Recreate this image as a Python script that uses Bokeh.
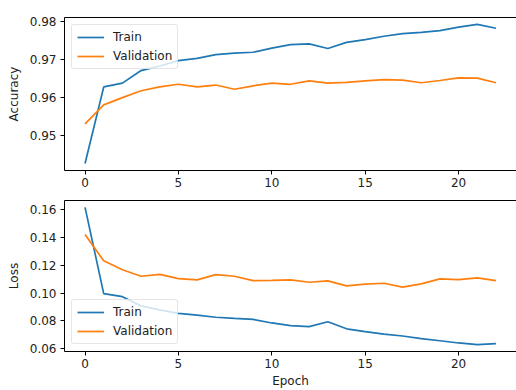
from bokeh.plotting import figure
from bokeh.layouts import column
from bokeh.models import Range1d, LinearAxis, FixedTicker, Legend, LegendItem
from bokeh.embed import file_html
from bokeh.resources import INLINE

epochs = list(range(23))
train_acc = [0.9427, 0.9628, 0.9638, 0.9671, 0.9683, 0.9697, 0.9703, 0.9713, 0.9717, 0.9719,
             0.9730, 0.9739, 0.9741, 0.9729, 0.9745, 0.9752, 0.9761, 0.9768, 0.9771, 0.9776,
             0.9785, 0.9792, 0.9782]
val_acc = [0.9531, 0.9581, 0.9600, 0.9618, 0.9628, 0.9635, 0.9628, 0.9633, 0.9622, 0.9631,
           0.9638, 0.9635, 0.9644, 0.9638, 0.9640, 0.9644, 0.9647, 0.9646, 0.9639, 0.9645,
           0.9652, 0.9651, 0.9639]
train_loss = [0.1617, 0.0996, 0.0974, 0.0908, 0.0879, 0.0854, 0.0842, 0.0826, 0.0818, 0.0811,
              0.0785, 0.0766, 0.0759, 0.0794, 0.0743, 0.0723, 0.0705, 0.0691, 0.0672, 0.0657,
              0.0641, 0.0629, 0.0636]
val_loss = [0.1421, 0.1232, 0.1168, 0.1121, 0.1135, 0.1104, 0.1095, 0.1133, 0.1121, 0.1090,
            0.1092, 0.1095, 0.1078, 0.1088, 0.1052, 0.1064, 0.1071, 0.1043, 0.1066, 0.1102,
            0.1097, 0.1109, 0.1090]
acc_ticks = [0.95, 0.96, 0.97, 0.98]
loss_ticks = [0.06, 0.08, 0.10, 0.12, 0.14, 0.16]
x_ticks = [0, 5, 10, 15, 20]
series_names = ["Train", "Validation"]
colors = ["#1f77b4", "#ff7f0e"]

FONT = "DejaVu Sans"
FS = "12px"


def pad(vals, frac=0.05):
    lo, hi = min(vals), max(vals)
    m = (hi - lo) * frac
    return lo - m, hi + m


def make(ys, ylabel, yticks, fmt, height, top, bottom, legend_loc, xlabel=None):
    allv = ys[0] + ys[1]
    y0, y1 = pad(allv)
    x0, x1 = pad(epochs)
    p = figure(width=516, height=height, output_backend="svg", toolbar_location=None,
               x_range=Range1d(x0, x1), y_range=Range1d(y0, y1),
               min_border_left=64, min_border_right=0, min_border_top=top,
               min_border_bottom=bottom, background_fill_color="white",
               border_fill_color="white")
    p.outline_line_color = None
    p.xgrid.visible = False
    p.ygrid.visible = False
    items = []
    for vals, name, c in zip(ys, series_names, colors):
        r = p.line(epochs, vals, line_color=c, line_width=1.7)
        items.append(LegendItem(label=name, renderers=[r]))
    for ax in (p.xaxis[0], p.yaxis[0]):
        ax.axis_line_color = "black"
        ax.axis_line_width = 1
        ax.major_tick_line_color = "black"
        ax.major_tick_out = 4
        ax.major_tick_in = 0
        ax.minor_tick_line_color = None
        ax.major_label_text_font = FONT
        ax.major_label_text_font_size = FS
        ax.major_label_text_color = "#222222"
        ax.axis_label_text_font = FONT
        ax.axis_label_text_font_size = FS
        ax.axis_label_text_font_style = "normal"
        ax.axis_label_text_color = "#222222"
    p.xaxis[0].ticker = FixedTicker(ticks=x_ticks)
    p.xaxis[0].major_label_standoff = 3
    p.yaxis[0].ticker = FixedTicker(ticks=yticks)
    p.yaxis[0].major_label_overrides = {t: fmt.format(t) for t in yticks}
    p.yaxis[0].major_label_standoff = 4
    p.yaxis[0].axis_label = ylabel
    p.yaxis[0].axis_label_standoff = 6
    if xlabel:
        p.xaxis[0].axis_label = xlabel
        p.xaxis[0].axis_label_standoff = 3
    top_ax = LinearAxis(ticker=FixedTicker(ticks=[]), axis_line_color="black",
                        axis_line_width=1, major_tick_line_color=None,
                        minor_tick_line_color=None, major_label_text_font_size="0px")
    p.add_layout(top_ax, "above")
    leg = Legend(items=items, location=legend_loc, margin=7, padding=5, spacing=5,
                 glyph_width=27, glyph_height=14, label_height=14, label_standoff=9,
                 label_text_font=FONT, label_text_font_size=FS,
                 label_text_color="#222222", border_line_color="#cccccc",
                 border_line_width=1, background_fill_alpha=0.8, border_radius=3)
    p.add_layout(leg)
    return p


p1 = make([train_acc, val_acc], "Accuracy", acc_ticks, "{:.2f}", 192, 17, 22, "top_left")
p2 = make([train_loss, val_loss], "Loss", loss_ticks, "{:.2f}", 198, 8, 38, "bottom_left",
          xlabel="Epoch")

layout = column(p1, p2, spacing=0)
open("out.html", "w").write(file_html(layout, INLINE))
